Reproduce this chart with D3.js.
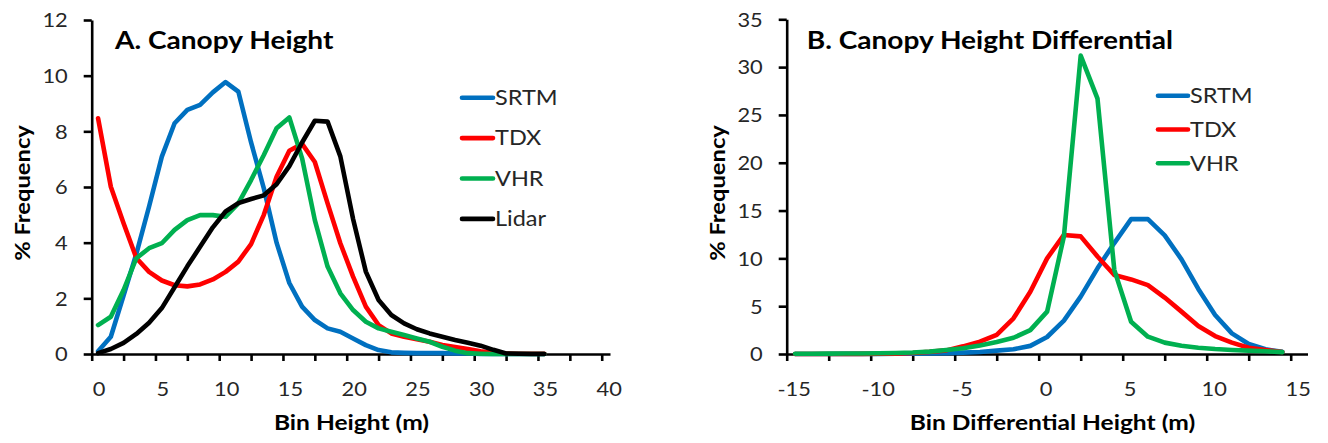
<!DOCTYPE html>
<html>
<head>
<meta charset="utf-8">
<script src="https://cdn.jsdelivr.net/npm/d3@7"></script>
<style>
  body { margin: 0; background: #fff; }
  svg { display: block; font-family: Lato, sans-serif; }
</style>
</head>
<body>
<svg id="chart" width="1328" height="443"></svg>
<script>
// ---- data ----
// panel A: canopy height bins (m), bin centres
const binsA = [0.5, 1.5, 2.5, 3.5, 4.5, 5.5, 6.5, 7.5, 8.5, 9.5, 10.5, 11.5, 12.5, 13.5, 14.5, 15.5, 16.5, 17.5,
  18.5, 19.5, 20.5, 21.5, 22.5, 23.5, 24.5, 25.5, 26.5, 27.5, 28.5, 29.5, 30.5, 31.5, 32.5, 33.5, 34.5, 35.5];
const srtmA = [0.1, 0.62, 2.1, 3.6, 5.3, 7.09, 8.29, 8.77, 8.95, 9.4, 9.77, 9.43, 7.6, 5.95, 4.0, 2.55, 1.7, 1.22,
  0.92, 0.8, 0.56, 0.32, 0.14, 0.06, 0.04, 0.03, 0.03, 0.03, 0.02, 0.02, 0, 0, 0, 0, 0, 0];
const tdxA = [8.47, 6.01, 4.7, 3.45, 2.95, 2.64, 2.47, 2.43, 2.5, 2.68, 2.95, 3.32, 3.95, 5.0, 6.37, 7.3, 7.55, 6.9,
  5.41, 3.98, 2.78, 1.7, 1.04, 0.74, 0.62, 0.53, 0.44, 0.32, 0.25, 0.18, 0.1, 0.04, 0.02, 0.01, 0.01, 0.01];
const vhrA = [1.04, 1.34, 2.3, 3.44, 3.8, 3.98, 4.46, 4.81, 4.99, 4.99, 4.93, 5.41, 6.25, 7.15, 8.11, 8.5, 7.03, 4.81,
  3.14, 2.18, 1.58, 1.16, 0.92, 0.8, 0.68, 0.56, 0.44, 0.26, 0.12, 0.03, 0.01, 0, 0, 0, 0, 0];
const lidarA = [0.03, 0.18, 0.4, 0.72, 1.12, 1.65, 2.4, 3.15, 3.85, 4.55, 5.12, 5.42, 5.57, 5.7, 6.1, 6.75, 7.6, 8.38,
  8.35, 7.1, 4.85, 2.96, 1.94, 1.4, 1.1, 0.89, 0.74, 0.62, 0.5, 0.4, 0.3, 0.15, 0.02, 0.01, 0, 0];

// panel B: canopy height differential bins (m)
const binsB = [-14.5, -13.5, -12.5, -11.5, -10.5, -9.5, -8.5, -7.5, -6.5, -5.5, -4.5, -3.5, -2.5, -1.5, -0.5,
  0.5, 1.5, 2.5, 3.5, 4.5, 5.5, 6.5, 7.5, 8.5, 9.5, 10.5, 11.5, 12.5, 13.5, 14.5];
const srtmB = [0, 0, 0, 0.01, 0.01, 0.01, 0.02, 0.03, 0.05, 0.08, 0.14, 0.21, 0.35, 0.5, 0.85,
  1.78, 3.49, 6.0, 8.96, 11.6, 14.1, 14.1, 12.4, 9.9, 6.8, 4.08, 2.16, 1.05, 0.49, 0.24];
const tdxB = [0, 0, 0, 0, 0.01, 0.02, 0.04, 0.1, 0.22, 0.38, 0.8, 1.29, 2.0, 3.73, 6.5,
  10.0, 12.45, 12.3, 10.2, 8.26, 7.8, 7.2, 5.9, 4.43, 2.93, 1.88, 1.19, 0.66, 0.42, 0.21];
const vhrB = [0.02, 0.03, 0.04, 0.05, 0.06, 0.08, 0.1, 0.15, 0.25, 0.42, 0.6, 0.9, 1.25, 1.7, 2.5,
  4.43, 12.3, 31.2, 26.7, 8.8, 3.38, 1.81, 1.19, 0.87, 0.66, 0.52, 0.42, 0.35, 0.28, 0.2];

const seriesNamesA = ["SRTM", "TDX", "VHR", "Lidar"];
const seriesNamesB = ["SRTM", "TDX", "VHR"];
const yTicksA = [0, 2, 4, 6, 8, 10, 12];
const yTicksB = [0, 5, 10, 15, 20, 25, 30, 35];
const xLabelsA = [0, 5, 10, 15, 20, 25, 30, 35, 40];
const xLabelsB = [-15, -10, -5, 0, 5, 10, 15];

const colors = { SRTM: "#0070C0", TDX: "#FF0000", VHR: "#00B050", Lidar: "#000000" };

// text in the source figure is a bit wider than tall (stretched image)
const SX = 1.12;
const tickColor = "#262626";

const svg = d3.select("#chart");

function addText(g, x, y, str, size, weight, anchor, sx) {
  return g.append("text")
    .attr("transform", `translate(${x},${y}) scale(${sx || SX},1)`)
    .attr("text-anchor", anchor)
    .style("font-size", size + "px")
    .style("font-weight", weight)
    .text(str);
}

function drawPanel(p) {
  const g = svg.append("g");
  const x = d3.scaleLinear().domain(p.xDomain).range(p.xRange);
  const y = d3.scaleLinear().domain(p.yDomain).range([p.yBottom, p.yTop]);

  // y axis
  const yAxis = g.append("g")
    .attr("transform", `translate(${p.xRange[0]},0)`)
    .call(d3.axisLeft(y).tickValues(p.yTicks).tickSize(8).tickSizeOuter(0));
  yAxis.selectAll("text")
    .attr("x", null).attr("dy", "0.35em")
    .attr("transform", `translate(-24,0) scale(${SX},1)`)
    .attr("fill", tickColor).style("font-size", "19.5px").style("font-family", "Lato, sans-serif");

  // x axis: ticks every 2.5, labels every 5
  const xAxis = g.append("g")
    .attr("transform", `translate(0,${p.yBottom})`)
    .call(d3.axisBottom(x).tickValues(p.xTicks).tickSize(7).tickSizeOuter(0)
      .tickFormat(d => p.xLabels.includes(d) ? d : ""));
  xAxis.selectAll("text")
    .attr("y", 0).attr("dy", 0)
    .attr("transform", `translate(7,42) scale(${SX},1)`)
    .attr("fill", tickColor).style("font-size", "19.5px").style("font-family", "Lato, sans-serif");

  g.selectAll(".domain, .tick line").attr("stroke", "#000").attr("stroke-width", 2.6);

  // series lines
  const line = d3.line().x(d => x(d[0])).y(d => y(d[1]));
  p.series.forEach(s => {
    g.append("path")
      .datum(p.bins.map((b, i) => [b, s.values[i]]))
      .attr("fill", "none")
      .attr("stroke", colors[s.name])
      .attr("stroke-width", 4.6)
      .attr("stroke-linejoin", "round")
      .attr("stroke-linecap", "round")
      .attr("d", line);
  });

  // legend
  p.series.forEach((s, i) => {
    const ly = p.legend.y0 + i * p.legend.step;
    g.append("line")
      .attr("x1", p.legend.x0).attr("x2", p.legend.x1)
      .attr("y1", ly).attr("y2", ly)
      .attr("stroke", colors[s.name]).attr("stroke-width", 4.6).attr("stroke-linecap", "round");
    addText(g, p.legend.x1 + 2, ly, s.name, 21, 400, "start").attr("dy", "0.35em").attr("fill", tickColor);
  });

  // titles
  addText(g, p.title.x, 49, p.title.text, 24, 700, "start", 1.17).attr("fill", "#000");
  addText(g, p.xTitle.x, 430, p.xTitle.text, 21, 700, "middle", 1.17).attr("fill", "#000");
  g.append("text")
    .attr("transform", `translate(${p.yTitleX},193) rotate(-90) scale(1.13,1)`)
    .attr("text-anchor", "middle")
    .style("font-size", "21px").style("font-weight", 700)
    .attr("fill", "#000")
    .text("% Frequency");
}

drawPanel({
  bins: binsA,
  series: seriesNamesA.map((n, i) => ({ name: n, values: [srtmA, tdxA, vhrA, lidarA][i] })),
  xDomain: [0, 40.65], xRange: [91.7, 610],
  yDomain: [0, 12], yTop: 20, yBottom: 354,
  yTicks: yTicksA, xTicks: d3.range(0, 40.01, 2.5), xLabels: xLabelsA,
  legend: { x0: 462, x1: 493, y0: 97.7, step: 40.4 },
  title: { x: 115, text: "A. Canopy Height" },
  xTitle: { x: 351.5, text: "Bin Height (m)" },
  yTitleX: 30
});

drawPanel({
  bins: binsB,
  series: seriesNamesB.map((n, i) => ({ name: n, values: [srtmB, tdxB, vhrB][i] })),
  xDomain: [-15, 16], xRange: [786.7, 1307.5],
  yDomain: [0, 35], yTop: 19.3, yBottom: 354,
  yTicks: yTicksB, xTicks: d3.range(-15, 15.01, 2.5), xLabels: xLabelsB,
  legend: { x0: 1158, x1: 1188, y0: 95.7, step: 33.8 },
  title: { x: 806.7, text: "B. Canopy Height Differential" },
  xTitle: { x: 1052.5, text: "Bin Differential Height (m)" },
  yTitleX: 725
});
</script>
</body>
</html>
